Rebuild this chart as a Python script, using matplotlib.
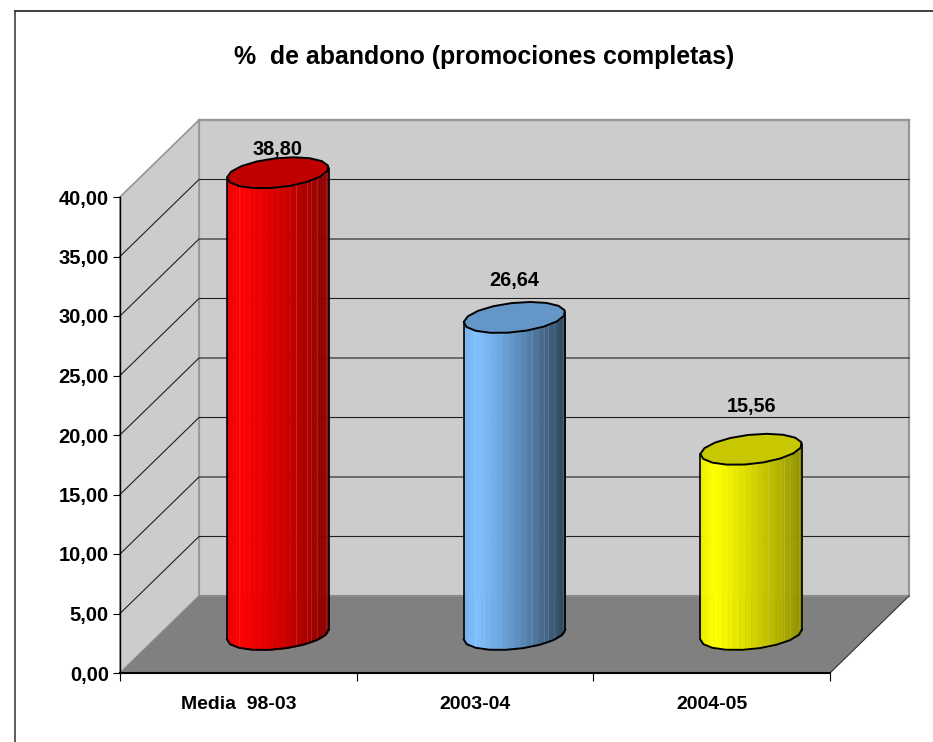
import numpy as np
import matplotlib
matplotlib.use("Agg")
import matplotlib.pyplot as plt
from matplotlib.lines import Line2D
from matplotlib.patches import Polygon

# Data
categories = ["Media  98-03", "2003-04", "2004-05"]
values = [38.80, 26.64, 15.56]
value_labels = ["38,80", "26,64", "15,56"]
y_ticks = [0, 5, 10, 15, 20, 25, 30, 35, 40]
y_tick_labels = ["0,00", "5,00", "10,00", "15,00", "20,00", "25,00", "30,00", "35,00", "40,00"]
title = "%  de abandono (promociones completas)"

side_colors = [(1.0, 0.0, 0.0), (0.50, 0.75, 1.0), (1.0, 1.0, 0.0)]
top_colors = ["#C00000", "#6496C8", "#C8C800"]
dark_amount = [0.46, 0.64, 0.44]  # how far each cylinder darkens at its right edge

W, H = 933, 742
LEFT, RIGHT, BOTTOM, TOP = 120, 830, 673, 197
DEPTH_X = 79 / (RIGHT - LEFT) * 3  # 3d depth in data units
DEPTH_Y = 77 / (BOTTOM - TOP) * 40
RADIUS_X = 0.2146
RADIUS_Y = 1.235
TILT = 0.42

plt.rcParams["font.family"] = ["Liberation Sans"]
plt.rcParams["font.weight"] = "bold"

fig = plt.figure(figsize=(W / 100, H / 100), dpi=100, facecolor="white")
ax = fig.add_axes([LEFT / W, 1 - BOTTOM / H, (RIGHT - LEFT) / W, (BOTTOM - TOP) / H])
ax.set_xlim(-0.5, 2.5)
ax.set_ylim(0, 40)
ax.patch.set_alpha(0)

x0, x1 = -0.5, 2.5
bx0, bx1 = x0 + DEPTH_X, x1 + DEPTH_X

# walls and floor
ax.add_patch(Polygon([(bx0, DEPTH_Y), (bx1, DEPTH_Y), (bx1, 40 + DEPTH_Y), (bx0, 40 + DEPTH_Y)],
                     fc="#CCCCCC", ec="#969696", lw=1.6, clip_on=False, zorder=1))
ax.add_patch(Polygon([(x0, 0), (bx0, DEPTH_Y), (bx0, 40 + DEPTH_Y), (x0, 40)],
                     fc="#CCCCCC", ec="#969696", lw=1.2, clip_on=False, zorder=1))
ax.add_patch(Polygon([(x0, 0), (x1, 0), (bx1, DEPTH_Y), (bx0, DEPTH_Y)],
                     fc="#808080", ec="none", clip_on=False, zorder=2))
ax.plot([bx0, bx1], [DEPTH_Y, DEPTH_Y], color="#8C8C8C", lw=1.4, clip_on=False, zorder=2)
ax.plot([x1, bx1], [0, DEPTH_Y], color="#303030", lw=0.8, clip_on=False, zorder=2)

# gridlines on both walls
for v in y_ticks[1:-1]:
    ax.plot([x0, bx0, bx1], [v, v + DEPTH_Y, v + DEPTH_Y], color="#202020", lw=0.8,
            clip_on=False, zorder=2)
ax.plot([bx0, bx1], [40 + DEPTH_Y] * 2, color="#969696", lw=1.6, clip_on=False, zorder=2)


def shade(base, u, dark):
    # u goes from -1 (left edge) to 1 (right edge)
    peak = -0.75
    if u < peak:
        k = 0.93 + 0.07 * (u + 1) / (peak + 1)
    else:
        k = 1 - dark * ((u - peak) / (1 - peak)) ** 1.2
    return tuple(c * k for c in base)


def front_curve(us):
    return TILT * us - RADIUS_Y * np.sqrt(np.clip(1 - us ** 2, 0, 1))


def outline(cx, cy, n=17):
    t = np.linspace(0, 2 * np.pi, n, endpoint=False) + 0.15
    return np.column_stack([cx + RADIUS_X * np.cos(t),
                            cy + TILT * np.cos(t) + RADIUS_Y * np.sin(t)])


# cylinders, built of facets so the shading comes out in bands
facets = -np.cos(np.linspace(0, np.pi, 27))
seams = [-0.77, 0.35, 0.58, 0.65, 0.77, 0.95]
for i, v in enumerate(values):
    cx = i + DEPTH_X / 2
    y_low = DEPTH_Y / 2
    y_high = v + DEPTH_Y / 2

    for a, b in zip(facets[:-1], facets[1:]):
        us = np.array([a, b])
        ax.fill_between(cx + RADIUS_X * us, y_low + front_curve(us), y_high + front_curve(us),
                        color=shade(side_colors[i], (a + b) / 2, dark_amount[i]), lw=0.3,
                        clip_on=False, zorder=3)
    for u in seams:
        ax.plot([cx + RADIUS_X * u] * 2, [y_low + front_curve(np.array(u)), y_high],
                color="white", alpha=0.12, lw=0.7, clip_on=False, zorder=3)

    us = -np.cos(np.linspace(0, np.pi, 10))
    ax.plot(cx + RADIUS_X * us, y_low + front_curve(us), color="black", lw=1.4, clip_on=False, zorder=4)
    ax.plot([cx - RADIUS_X] * 2, [y_low - TILT, y_high - TILT], color="black", lw=1.2,
            clip_on=False, zorder=4)
    ax.plot([cx + RADIUS_X] * 2, [y_low + TILT, y_high + TILT], color="black", lw=1.2,
            clip_on=False, zorder=4)
    ax.add_patch(Polygon(outline(cx, y_high), fc=top_colors[i], ec="black", lw=1.4,
                         joinstyle="round", clip_on=False, zorder=5))

# value labels (the offsets are not the same for each bar in the original)
label_offsets = [23, 37, 43]
for i, v in enumerate(values):
    ax.annotate(value_labels[i], (i + DEPTH_X / 2, v + DEPTH_Y / 2),
                xytext=(0, label_offsets[i] * 0.72), textcoords="offset points",
                ha="center", va="center", fontsize=14.3, annotation_clip=False, zorder=6)

# axes
for side in ["top", "right"]:
    ax.spines[side].set_visible(False)
ax.spines["left"].set_linewidth(1.0)
ax.spines["bottom"].set_linewidth(1.5)
for s in ax.spines.values():
    s.set_zorder(7)

ax.set_yticks(y_ticks)
ax.set_yticklabels(y_tick_labels, fontsize=14.5, fontweight="bold")
ax.tick_params(axis="y", length=5, width=0.8, pad=3)

ax.set_xticks([-0.5, 0.5, 1.5, 2.5])
ax.set_xticklabels([])
ax.tick_params(axis="x", which="major", length=5.5, width=0.8)
ax.set_xticks([0, 1, 2], minor=True)
ax.set_xticklabels(categories, minor=True, fontsize=14, fontweight="bold")
ax.tick_params(axis="x", which="minor", length=0, pad=16.5)

fig.text(484 / W, 1 - 57 / H, title, ha="center", va="center", fontsize=17.9, fontweight="bold")

# chart area border, only top and left survive in the original
fig.add_artist(Line2D([14.5 / W, 14.5 / W], [0, 1 - 10.5 / H], color="#303030", lw=1.1))
fig.add_artist(Line2D([14.5 / W, 1], [1 - 10.5 / H, 1 - 10.5 / H], color="#303030", lw=1.3))

fig.savefig("out.png", dpi=100)
